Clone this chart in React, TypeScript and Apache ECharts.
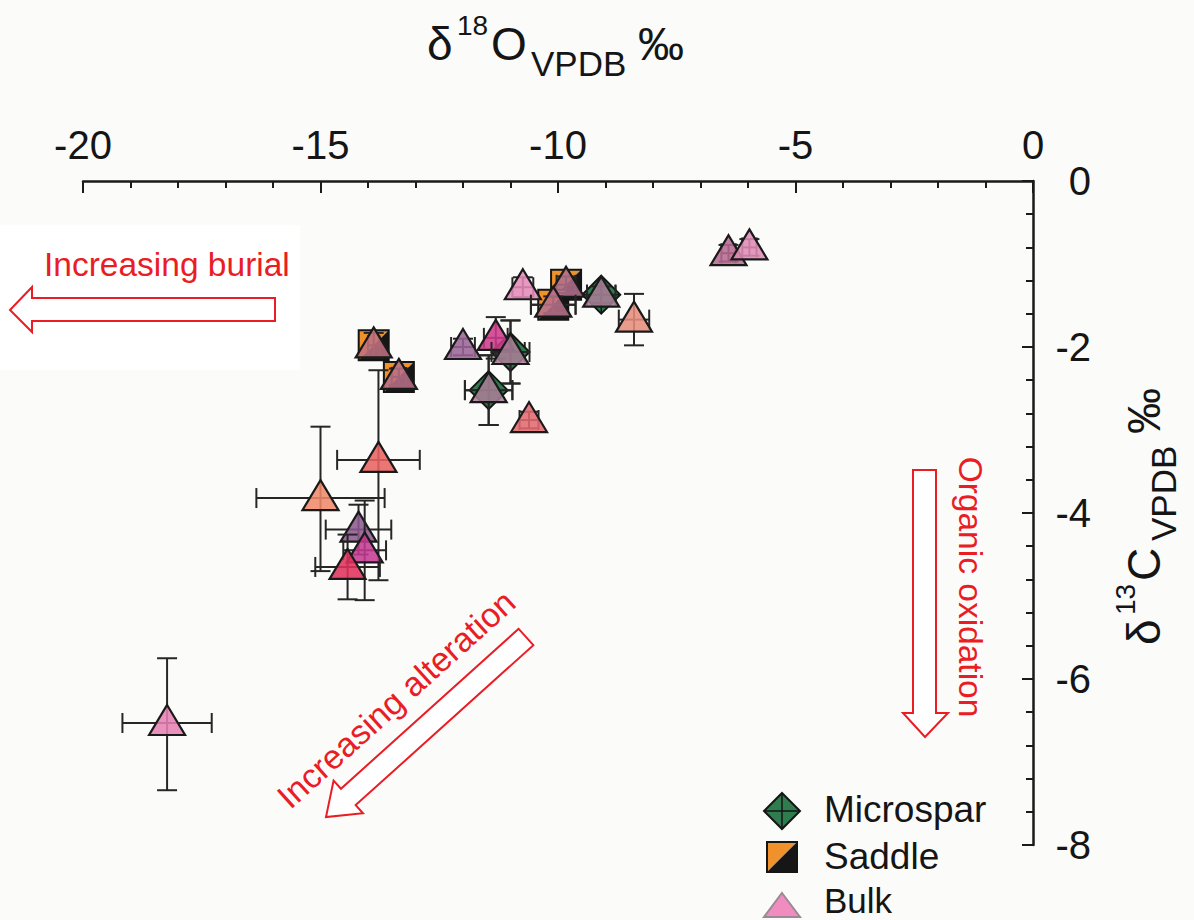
import React, { useEffect, useRef } from 'react';
import * as echarts from 'echarts';

const FONT = '"Liberation Sans", Arial, Helvetica, sans-serif';

// Axis settings
const xMin = -20, xMax = 0, xStep = 5;
const yMin = -8, yMax = 0, yStep = 2;

// Bulk (triangles)
const bulkX = [-18.23, -15.0, -13.78, -14.2, -14.07, -14.43, -13.88, -13.35, -10.74, -9.83, -10.1, -9.09, -8.4, -12.0, -11.31, -11.0, -11.46, -10.61, -6.41, -5.97];
const bulkY = [-6.53, -3.82, -3.36, -4.2, -4.45, -4.65, -1.98, -2.36, -1.28, -1.25, -1.49, -1.37, -1.67, -2.0, -1.89, -2.06, -2.52, -2.88, -0.87, -0.8];
const bulkXErr = [0.94, 1.35, 0.87, 0.69, 0.45, 0.68, 0.12, 0.15, 0.22, 0.2, 0.47, 0.3, 0.32, 0.25, 0.25, 0.4, 0.5, 0.2, 0.15, 0.15];
const bulkYErrUp = [0.78, 0.86, 1.08, 0.3, 0.6, 0.39, 0.15, 0.1, 0.12, 0.1, 0.1, 0.1, 0.31, 0.1, 0.25, 0.38, 0.42, 0.1, 0.1, 0.1];
const bulkYErrDown = [0.81, 0.88, 1.45, 0.3, 0.6, 0.39, 0.15, 0.1, 0.12, 0.1, 0.1, 0.1, 0.31, 0.1, 0.25, 0.38, 0.42, 0.1, 0.1, 0.1];
const bulkColor = ['#e77fb3', '#f08a6a', '#e9625f', '#8c5890', '#c43a92', '#e0305c', '#c07080', '#b86e88', '#e38ab8', '#b06e8c', '#b8708a', '#a87e96', '#e68d7b', '#9a6496', '#d03a8c', '#a87e96', '#a87e96', '#e0686e', '#b86a92', '#e08ab6'];

// Saddle (squares)
const saddleX = [-13.88, -13.35, -9.83, -10.1];
const saddleY = [-1.98, -2.36, -1.25, -1.49];
const saddleXErr = [0.12, 0.15, 0.2, 0.47];
const saddleYErr = [0.15, 0.1, 0.1, 0.1];

// Microspar (diamonds)
const microX = [-9.09, -11.0, -11.46];
const microY = [-1.37, -2.06, -2.52];
const microXErr = [0.3, 0.3, 0.5];
const microYErr = [0.1, 0.38, 0.42];

const legendNames = ['Microspar', 'Saddle', 'Bulk'];

const RED = '#ea1c24';
const INK = '#151515';

function hexA(hex: string, a: number) {
  const n = parseInt(hex.slice(1), 16);
  return `rgba(${(n >> 16) & 255},${(n >> 8) & 255},${n & 255},${a})`;
}

function errBars(api: any, x: number, y: number, xe: number, yUp: number, yDown: number) {
  const c = api.coord([x, y]);
  const l = api.coord([x - xe, y])[0];
  const r = api.coord([x + xe, y])[0];
  const t = api.coord([x, y + yUp])[1];
  const b = api.coord([x, y - yDown])[1];
  const cap = 10;
  const style = { stroke: '#262626', lineWidth: 2, fill: null };
  const mk = (x1: number, y1: number, x2: number, y2: number) => ({ type: 'line', shape: { x1, y1, x2, y2 }, style });
  return [
    mk(l, c[1], r, c[1]),
    mk(l, c[1] - cap, l, c[1] + cap),
    mk(r, c[1] - cap, r, c[1] + cap),
    mk(c[0], t, c[0], b),
    mk(c[0] - cap, t, c[0] + cap, t),
    mk(c[0] - cap, b, c[0] + cap, b),
  ];
}

function diamondEls(cx: number, cy: number, s: number) {
  return [
    { type: 'polygon', shape: { points: [[cx, cy - s], [cx + s, cy], [cx, cy + s], [cx - s, cy]] }, style: { fill: '#2f7d4e', stroke: INK, lineWidth: 2 } },
    { type: 'line', shape: { x1: cx - s, y1: cy, x2: cx + s, y2: cy }, style: { stroke: INK, lineWidth: 1.5 } },
    { type: 'line', shape: { x1: cx, y1: cy - s, x2: cx, y2: cy + s }, style: { stroke: INK, lineWidth: 1.5 } },
  ];
}

function squareEls(cx: number, cy: number, h: number) {
  return [
    { type: 'polygon', shape: { points: [[cx - h, cy - h], [cx + h, cy - h], [cx - h, cy + h]] }, style: { fill: '#f0912c' } },
    { type: 'polygon', shape: { points: [[cx + h, cy - h], [cx + h, cy + h], [cx - h, cy + h]] }, style: { fill: '#161616' } },
    { type: 'rect', shape: { x: cx - h, y: cy - h, width: 2 * h, height: 2 * h }, style: { fill: null, stroke: INK, lineWidth: 2 } },
  ];
}

function txt(text: string, x: number, y: number, size: number, fill: string, align = 'left', extra: any = {}) {
  return {
    type: 'text', x, y, ...extra,
    style: { text, fontSize: size, fontFamily: FONT, fill, align, verticalAlign: 'middle', textAlign: align, textVerticalAlign: 'middle' },
  };
}

function titleParts(sup: string, main: string) {
  return [
    txt('δ', 0, 0, 46, INK),
    txt(sup, 30, -19, 28, INK),
    txt(main, 64, 0, 46, INK),
    txt('VPDB', 104, 19, 35, INK),
    txt('‰', 211, 0, 46, INK),
  ];
}

function arrowPoly(tail: number[], tip: number[], hw: number, hhw: number, hl: number) {
  const dx = tip[0] - tail[0], dy = tip[1] - tail[1];
  const len = Math.sqrt(dx * dx + dy * dy);
  const ux = dx / len, uy = dy / len;
  const nx = -uy, ny = ux;
  const bx = tip[0] - ux * hl, by = tip[1] - uy * hl;
  return [
    [tail[0] + nx * hw, tail[1] + ny * hw],
    [bx + nx * hw, by + ny * hw],
    [bx + nx * hhw, by + ny * hhw],
    [tip[0], tip[1]],
    [bx - nx * hhw, by - ny * hhw],
    [bx - nx * hw, by - ny * hw],
    [tail[0] - nx * hw, tail[1] - ny * hw],
  ];
}

export default function App() {
  const ref = useRef<HTMLDivElement>(null);
  useEffect(() => {
    if (!ref.current) return;
    const chart = echarts.init(ref.current, null, { renderer: 'svg' });
    const axisColor = '#1a1a1a';
    const option: any = {
      animation: false,
      backgroundColor: '#fbfbfa',
      grid: { left: 83, right: 161, top: 181, bottom: 75, containLabel: false },
      xAxis: {
        type: 'value', position: 'top', min: xMin, max: xMax, interval: xStep,
        axisLine: { show: true, onZero: false, lineStyle: { color: axisColor, width: 2.5 } },
        axisTick: { show: true, inside: true, length: 12, lineStyle: { color: axisColor, width: 2 } },
        minorTick: { show: true, splitNumber: 5, length: 7, lineStyle: { color: axisColor, width: 2 } },
        splitLine: { show: false },
        axisLabel: { fontSize: 40, color: INK, fontFamily: FONT, margin: 16 },
      },
      yAxis: {
        type: 'value', position: 'right', min: yMin, max: yMax, interval: yStep,
        axisLine: { show: true, onZero: false, lineStyle: { color: axisColor, width: 2.5 } },
        axisTick: { show: true, inside: true, length: 11, lineStyle: { color: axisColor, width: 2 } },
        minorTick: { show: true, splitNumber: 5, length: 7, lineStyle: { color: axisColor, width: 2 } },
        splitLine: { show: false },
        axisLabel: { fontSize: 40, color: INK, fontFamily: FONT, margin: 58, align: 'right' },
      },
      series: [
        {
          type: 'custom', name: 'Saddle', clip: false,
          data: saddleX.map((x, i) => [x, saddleY[i]]),
          encode: { x: 0, y: 1 },
          renderItem: (params: any, api: any) => {
            const i = params.dataIndex;
            const x = api.value(0), y = api.value(1);
            const c = api.coord([x, y]);
            return { type: 'group', children: [...errBars(api, x, y, saddleXErr[i], saddleYErr[i], saddleYErr[i]), ...squareEls(c[0], c[1], 15)] };
          },
        },
        {
          type: 'custom', name: 'Microspar', clip: false,
          data: microX.map((x, i) => [x, microY[i]]),
          encode: { x: 0, y: 1 },
          renderItem: (params: any, api: any) => {
            const i = params.dataIndex;
            const x = api.value(0), y = api.value(1);
            const c = api.coord([x, y]);
            return { type: 'group', children: [...errBars(api, x, y, microXErr[i], microYErr[i], microYErr[i]), ...diamondEls(c[0], c[1], 19)] };
          },
        },
        {
          type: 'custom', name: 'Bulk', clip: false,
          data: bulkX.map((x, i) => [x, bulkY[i]]),
          encode: { x: 0, y: 1 },
          renderItem: (params: any, api: any) => {
            const i = params.dataIndex;
            const x = api.value(0), y = api.value(1);
            const c = api.coord([x, y]);
            return {
              type: 'group', children: [
                ...errBars(api, x, y, bulkXErr[i], bulkYErrUp[i], bulkYErrDown[i]),
                { type: 'polygon', shape: { points: [[c[0], c[1] - 18], [c[0] + 18, c[1] + 12], [c[0] - 18, c[1] + 12]] }, style: { fill: hexA(bulkColor[i], 0.87), stroke: '#1a1a1a', lineWidth: 2.2 } },
              ],
            };
          },
        },
      ],
      graphic: [
        { type: 'rect', z: -10, shape: { x: 0, y: 225, width: 300, height: 145 }, style: { fill: '#ffffff' } },
        // Titles
        { type: 'group', x: 427, y: 44, children: titleParts('18', 'O') },
        { type: 'group', x: 1144, y: 645, rotation: Math.PI / 2, children: titleParts('13', 'C') },
        // Increasing burial
        txt('Increasing burial', 44, 264, 33.5, RED),
        { type: 'polygon', shape: { points: [[10, 310], [32, 287], [32, 298], [275, 298], [275, 321], [32, 321], [32, 332]] }, style: { fill: '#ffffff', stroke: RED, lineWidth: 2 } },
        // Organic oxidation
        { type: 'polygon', shape: { points: [[913, 470], [936, 470], [936, 713], [948, 713], [925, 737], [903, 713], [913, 713]] }, style: { fill: '#ffffff', stroke: RED, lineWidth: 2 } },
        txt('Organic oxidation', 970, 587, 33.5, RED, 'center', { rotation: -Math.PI / 2 }),
        // Increasing alteration
        { type: 'polygon', shape: { points: arrowPoly([526, 637], [326, 817], 11, 22, 30) }, style: { fill: '#ffffff', stroke: RED, lineWidth: 2 } },
        txt('Increasing alteration', 396, 699, 34, RED, 'center', { rotation: Math.atan2(181, 201) }),
        // Legend
        { type: 'group', children: diamondEls(782, 811, 18) },
        txt(legendNames[0], 824, 809, 37, INK),
        { type: 'group', children: squareEls(782, 857, 15) },
        txt(legendNames[1], 824, 856, 37, INK),
        { type: 'polygon', shape: { points: [[782, 893], [800, 917], [764, 917]] }, style: { fill: '#f08cc0', stroke: '#9a8a92', lineWidth: 2 } },
        txt(legendNames[2], 824, 900, 35, INK),
      ],
    };
    chart.setOption(option);
    return () => chart.dispose();
  }, []);
  return <div ref={ref} style={{ position: 'absolute', left: 0, top: 0, width: 1194, height: 920 }} />;
}
